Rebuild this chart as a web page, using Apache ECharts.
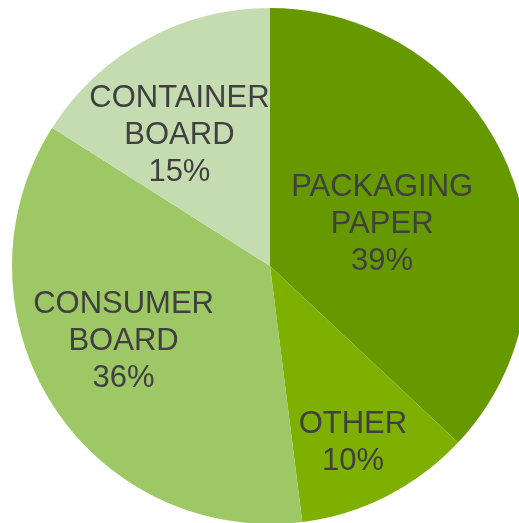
<!DOCTYPE html>
<html>
<head>
<meta charset="utf-8">
<script src="https://cdn.jsdelivr.net/npm/echarts@6/dist/echarts.min.js"></script>
<style>
  html, body { margin: 0; padding: 0; background: #fff; }
  #main { width: 519px; height: 523px; }
</style>
</head>
<body>
<div id="main"></div>
<script>
// slices, clockwise from 12 o'clock
var names = ['PACKAGING\nPAPER', 'OTHER', 'CONSUMER\nBOARD', 'CONTAINER\nBOARD'];
var shares = [37, 11, 36, 16];          // slice sizes as drawn
var pctLabels = ['39%', '10%', '36%', '15%'];  // printed percentages
var colors = ['#669900', '#7db000', '#9ec766', '#c5dcb0'];

// label nudges away from echarts' default inside spot
var nudge = [[-9, 11], [23, 59], [-35, 5], [-27, -15]];

var chart = echarts.init(document.getElementById('main'));

var pieData = names.map(function (n, i) {
  return { name: n, value: shares[i], itemStyle: { color: colors[i] } };
});

var option = {
  animation: false,
  series: [{
    type: 'pie',
    center: [270, 266],
    radius: 258,
    startAngle: 90,
    clockwise: true,
    avoidLabelOverlap: false,
    itemStyle: { borderWidth: 0 },
    label: {
      position: 'inside',
      color: '#404040',
      fontFamily: 'Liberation Sans, Arial, sans-serif',
      fontSize: 31,
      lineHeight: 37,
      align: 'center',
      formatter: function (p) {
        return p.name + '\n' + pctLabels[p.dataIndex];
      }
    },
    labelLine: { show: false },
    labelLayout: function (p) {
      var d = nudge[p.dataIndex];
      return { dx: d[0], dy: d[1] };
    },
    data: pieData
  }]
};

chart.setOption(option);
</script>
</body>
</html>
